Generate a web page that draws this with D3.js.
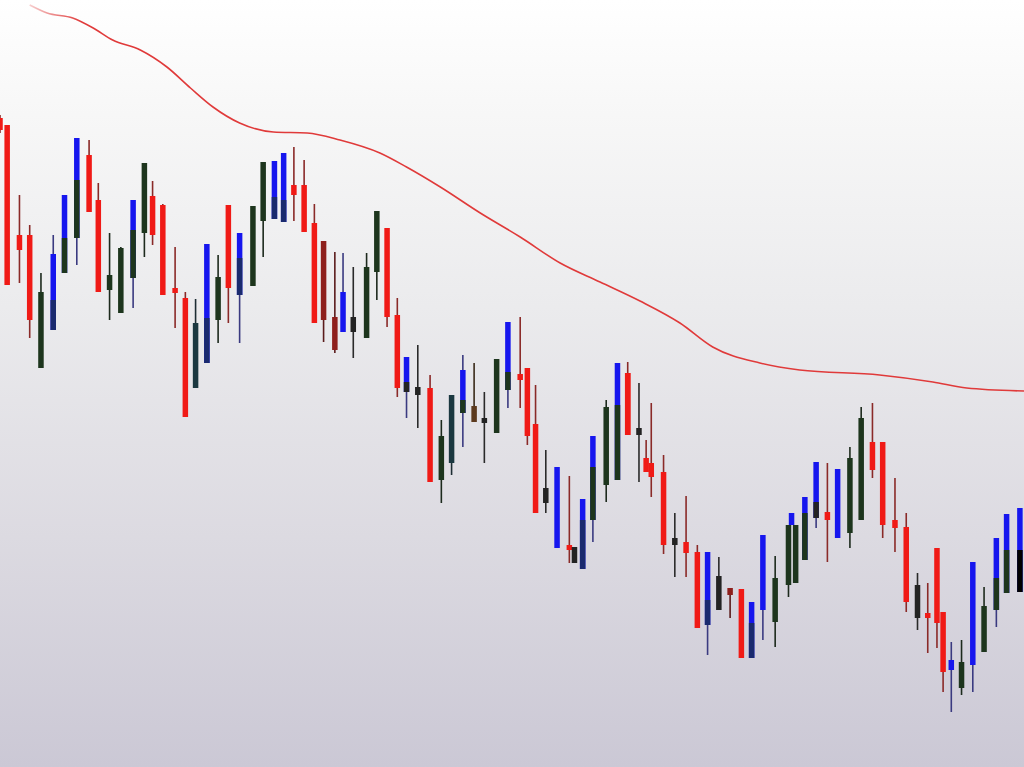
<!DOCTYPE html>
<html>
<head>
<meta charset="utf-8">
<script src="https://cdn.jsdelivr.net/npm/d3@7/dist/d3.min.js"></script>
<style>
html,body{margin:0;padding:0;overflow:hidden;background:#fff;}
svg{display:block;}
</style>
</head>
<body>
<svg id="chart" width="1024" height="767"></svg>
<script>
// ---- data (session position, open, high, low, close, tone, split, lower tone) ----
const times = [0,0.7,1.9,2.9,4.0,5.2,6.3,7.5,8.7,9.6,10.7,11.8,13.0,14.1,14.9,15.9,17.1,18.1,19.1,20.2,21.3,22.3,23.4,24.7,25.7,26.8,27.7,28.7,29.7,30.7,31.6,32.7,33.5,34.5,35.8,36.8,37.8,38.8,39.7,40.8,42.0,43.1,44.1,45.2,46.3,47.3,48.5,49.6,50.8,51.5,52.3,53.3,54.4,55.6,56.1,56.9,57.9,59.2,60.3,61.3,62.4,63.1,63.6,64.8,65.9,67.0,68.1,69.1,70.2,71.3,72.4,73.4,74.5,75.7,77.0,77.3,77.7,78.6,79.7,80.8,81.8,83.0,84.1,85.2,86.2,87.4,88.5,89.6,90.6,91.5,92.1,92.9,93.9,95.0,96.1,97.3,98.3,99.6];
const opens = [88.2,87.5,76.5,76.5,63.2,67.0,72.7,76.2,84.5,80.0,71.0,68.7,72.2,76.7,80.4,79.5,71.2,70.2,61.2,63.7,68.0,79.5,70.5,71.4,77.9,78.1,77.8,81.5,81.5,77.7,75.9,68.3,66.8,66.8,66.2,72.8,77.2,68.5,60.8,60.5,61.2,52.0,53.7,58.7,57.8,57.7,56.7,61.0,62.6,63.2,57.6,49.7,45.2,45.5,43.7,43.1,48.0,51.5,52.0,62.7,56.5,54.2,53.7,52.8,45.5,45.8,44.8,37.5,39.0,41.2,41.1,34.2,39.0,37.8,41.5,47.5,41.7,44.0,48.2,48.8,46.2,46.7,48.0,55.8,55.8,48.0,47.3,38.2,38.7,45.2,38.8,33.0,31.2,33.5,34.8,39.0,40.7,40.8];
const highs = [88.5,87.5,80.5,77.5,72.7,76.5,80.5,86.2,86.0,81.7,76.7,75.3,80.0,83.7,81.9,79.6,75.3,70.8,70.1,75.6,74.5,79.5,76.7,79.4,83.8,83.9,84.7,85.3,84.0,79.6,75.9,74.8,74.7,73.3,74.7,78.9,77.2,70.2,64.3,65.5,62.5,58.0,60.5,64.5,63.7,60.8,64.1,67.8,68.3,63.2,61.5,55.0,53.3,52.4,45.3,50.1,56.4,60.0,63.7,63.8,61.7,56.0,59.7,54.5,48.7,50.4,45.5,44.8,44.3,41.2,41.1,39.8,46.5,44.4,47.5,48.7,47.5,50.3,53.8,53.7,53.1,55.3,59.3,59.7,55.8,52.2,48.7,42.7,41.7,45.2,38.8,35.8,36.0,43.8,41.3,46.2,48.6,49.2];
const lows = [86.7,71.5,71.7,66.2,63.2,67.0,72.7,73.5,78.8,70.8,68.0,68.7,69.2,74.3,75.5,70.5,67.2,58.3,61.2,63.7,65.7,67.7,65.7,71.4,74.3,78.1,77.8,77.9,76.8,67.7,65.8,64.7,66.8,64.2,66.2,70.0,67.3,60.3,58.2,57.2,51.8,49.7,52.5,55.3,57.8,53.7,56.7,59.2,59.2,55.5,48.7,48.7,45.2,43.7,43.7,43.1,45.8,49.8,52.0,56.5,51.8,52.8,50.3,44.6,42.3,42.3,37.2,34.5,39.0,38.2,34.2,34.2,36.0,35.3,40.3,47.5,41.7,44.0,47.2,43.8,46.2,45.2,48.0,52.2,46.2,44.8,38.8,37.0,34.7,35.2,30.8,28.8,30.5,30.8,34.8,37.3,40.7,40.8];
const closes = [87.0,71.5,75.0,68.0,70.8,74.6,80.5,86.2,78.8,70.8,72.5,75.2,80.0,83.7,76.5,70.5,70.7,58.3,67.7,75.6,72.3,71.2,76.7,79.4,83.8,83.9,84.7,80.5,76.8,67.7,68.0,65.0,70.8,68.3,73.3,78.9,68.3,61.2,64.3,61.3,51.8,56.4,60.5,63.0,59.4,58.2,64.1,67.8,62.0,56.4,48.7,51.2,53.3,45.0,45.3,50.1,56.4,59.3,63.7,56.5,57.2,52.8,52.3,45.5,46.2,44.7,37.2,44.8,42.4,40.5,34.2,39.8,46.5,42.2,47.5,48.7,47.5,50.3,53.8,48.0,53.1,54.2,58.2,53.0,47.5,47.2,39.8,41.5,38.2,37.7,32.8,34.0,33.8,43.8,39.4,46.2,48.6,49.2];
const tones = ["r","r","r","r","g","b","b","b","r","r","g","g","b","g","r","r","r","r","t","b","g","r","b","g","g","b","b","r","r","r","m","m","b","d","g","g","r","r","b","d","r","g","t","b","w","d","g","b","r","r","r","d","b","r","d","b","b","g","b","r","d","r","r","r","d","r","r","b","d","m","r","b","b","g","g","b","g","b","b","r","b","g","g","r","r","r","r","d","r","r","r","b","g","b","g","b","b","b"];
// price where the body changes colour (lower part uses lowerTones), null = single colour
const splits = [null,null,null,null,null,70.0,76.2,82.0,null,null,null,null,77.0,null,null,null,null,null,null,68.2,null,null,74.2,null,null,80.3,80.0,null,null,null,null,null,null,null,null,null,null,null,61.8,null,null,null,null,60.0,null,null,null,62.8,null,null,null,null,null,null,null,48.0,53.3,null,59.5,62.7,null,null,null,null,null,null,null,40.0,null,null,null,37.7,null,null,null,null,null,48.7,49.8,null,null,null,null,null,null,null,null,null,null,null,null,null,null,null,null,42.2,45.0,45.0];
const lowerTones = ["","","","","","n","g","g","","","","","g","","","","","","","n","","","n","","","n","n","","","","","","","","","","","","d","","","","","g","","","","g","","","","","","","","n","g","","g","r","","","","","","","","n","","","","n","","","","","","g","d","","","","","","","","","","","","","","","","g","g","g"];

// moving-average line
const maTimes = [2.9,4.6,7.1,9.1,11.0,13.7,16.3,18.6,20.8,23.4,26.7,30.0,33.2,37.1,39.7,43.0,46.9,50.8,54.7,58.6,62.5,66.4,69.6,74.2,78.1,85.9,91.1,94.4,100];
const maValues = [99.5,98.7,98.2,97.2,96.0,95.0,93.3,91.2,89.3,87.7,86.8,86.7,86.0,84.7,83.3,81.3,78.7,76.3,73.7,71.8,69.9,67.7,65.3,63.7,63.0,62.5,61.8,61.2,60.9];

// ---- styling ----
const W = 1024, H = 767;
const toneColor = {r:"#f01a16", b:"#1616ee", g:"#1d351d", t:"#1b3840", d:"#232323", m:"#8e1f1c", n:"#1a2a6e", w:"#5c3a1e"};
const wickColor = {r:"#8a2a28", b:"#3a3a80", g:"#1d2a1d", t:"#1d2d33", d:"#2a2a2a", m:"#5a1b1b", n:"#1a2250", w:"#3a2a1a"};

const svg = d3.select("#chart");
const defs = svg.append("defs");
const bg = defs.append("linearGradient").attr("id","bg").attr("x1",0).attr("y1",0).attr("x2",0).attr("y2",1);
bg.append("stop").attr("offset","0%").attr("stop-color","#ffffff");
bg.append("stop").attr("offset","15%").attr("stop-color","#f7f7f7");
bg.append("stop").attr("offset","40%").attr("stop-color","#ebebed");
bg.append("stop").attr("offset","70%").attr("stop-color","#dcdae1");
bg.append("stop").attr("offset","100%").attr("stop-color","#cbc8d5");
svg.append("rect").attr("width",W).attr("height",H).attr("fill","url(#bg)");

const x = d3.scaleLinear().domain([0,100]).range([0,W]);
const y = d3.scaleLinear().domain([100-76.7,100]).range([H,0]);

const data = times.map((t,i)=>({t,o:opens[i],h:highs[i],l:lows[i],c:closes[i],tone:tones[i],split:splits[i],lt:lowerTones[i]}));

// MA line with faded start
const lg = defs.append("linearGradient").attr("id","ma").attr("gradientUnits","userSpaceOnUse")
  .attr("x1",x(2.9)).attr("x2",x(8)).attr("y1",0).attr("y2",0);
lg.append("stop").attr("offset","0%").attr("stop-color","#e03a3a").attr("stop-opacity",0.25);
lg.append("stop").attr("offset","100%").attr("stop-color","#e03a3a").attr("stop-opacity",1);
const line = d3.line().x((d,i)=>x(maTimes[i])).y(d=>y(d)).curve(d3.curveMonotoneX);
svg.append("path").attr("d",line(maValues)).attr("fill","none")
  .attr("stroke","url(#ma)").attr("stroke-width",1.6);

const bodyW = 5.5;
const g = svg.append("g");
const candles = g.selectAll("g.c").data(data).join("g").attr("class","c");
candles.append("line")
  .attr("x1",d=>x(d.t)).attr("x2",d=>x(d.t))
  .attr("y1",d=>y(d.h)).attr("y2",d=>y(d.l))
  .attr("stroke",d=>wickColor[d.tone]).attr("stroke-width",1.6);
candles.append("rect")
  .attr("x",d=>x(d.t)-bodyW/2).attr("width",bodyW)
  .attr("y",d=>y(Math.max(d.o,d.c)))
  .attr("height",d=>Math.max(2.5,Math.abs(y(d.o)-y(d.c))))
  .attr("fill",d=>toneColor[d.tone]);
candles.filter(d=>d.split!==null).append("rect")
  .attr("x",d=>x(d.t)-bodyW/2).attr("width",bodyW)
  .attr("y",d=>y(d.split))
  .attr("height",d=>Math.max(0,y(Math.min(d.o,d.c))-y(d.split)))
  .attr("fill",d=>toneColor[d.lt]);
</script>
</body>
</html>
